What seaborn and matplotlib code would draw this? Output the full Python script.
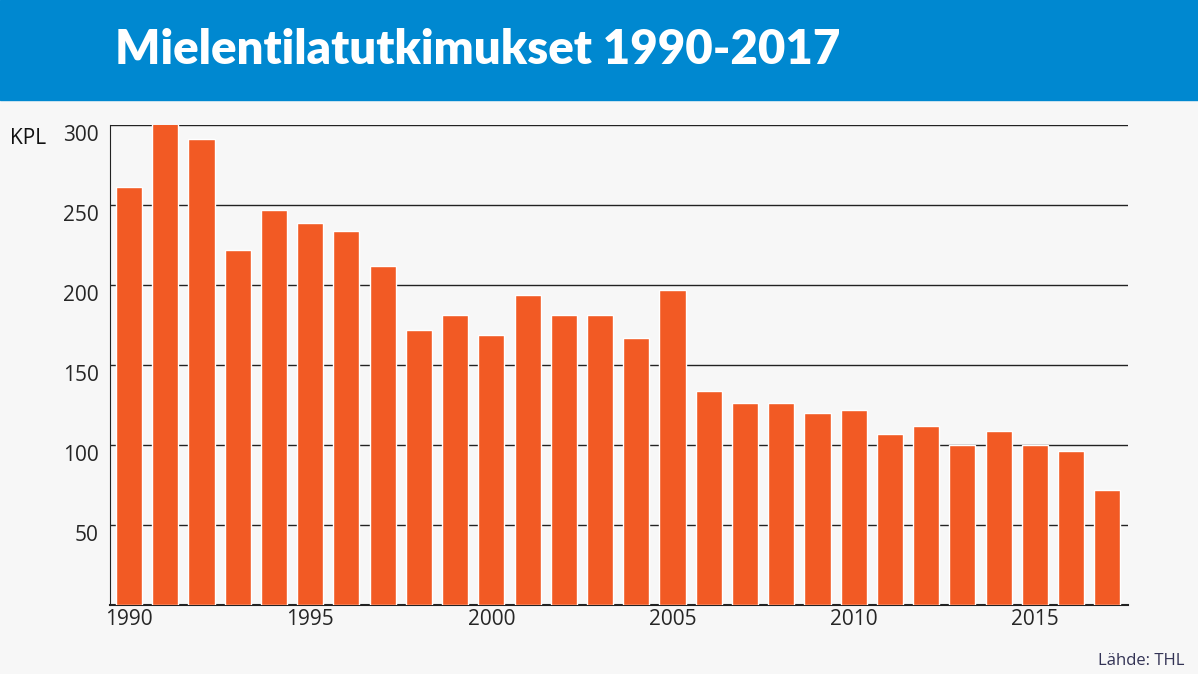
import matplotlib
matplotlib.use("Agg")
import matplotlib.pyplot as plt
import seaborn as sns
import pandas as pd

years = list(range(1990, 2018))
values = [261, 302, 291, 222, 247, 239, 234, 212, 172, 181, 169, 194, 181, 181, 167, 197,
          134, 126, 126, 120, 122, 107, 112, 100, 109, 100, 96, 72]
yticks = [50, 100, 150, 200, 250, 300]
xtick_years = [1990, 1995, 2000, 2005, 2010, 2015]

sns.set_style("white")
plt.rcParams['font.family'] = ['Open Sans', 'DejaVu Sans']

bg = "#f7f7f7"
fig = plt.figure(figsize=(11.98, 6.74), dpi=100, facecolor=bg)
fig.patches.append(plt.Rectangle((0, 1 - 100/674), 1, 100/674, transform=fig.transFigure,
                                 color="#0088d0", zorder=0))
fig.text(115/1198, 1 - 50/674, "Mielentilatutkimukset 1990-2017", color="white",
         fontsize=34, fontweight="heavy", family=["Lato", "DejaVu Sans"], va="center")

ax = fig.add_axes([110/1198, 69/674, 1018/1198, 480/674])
ax.set_facecolor(bg)
df = pd.DataFrame({"year": [str(y) for y in years], "value": values})
sns.barplot(data=df, x="year", y="value", color="#f25a24", saturation=1, width=0.72, ax=ax, zorder=3)
ax.set_xlim(-0.524, 27.57)
ax.set_ylim(0, 300)
ax.set_yticks(yticks)
ax.set_yticklabels([str(t) for t in yticks], va="top", fontsize=15)
ax.yaxis.grid(True, color="#222222", linewidth=1)
ax.set_axisbelow(True)
ax.set_xticks([years.index(y) for y in xtick_years])
ax.set_xticklabels([str(y) for y in xtick_years], fontsize=15)
ax.tick_params(axis="y", length=0, pad=8)
ax.tick_params(axis="x", length=0, pad=3)
for s in ["top", "right"]:
    ax.spines[s].set_visible(False)
ax.spines["left"].set_color("#222222")
ax.spines["bottom"].set_color("#222222")
ax.spines["bottom"].set_linewidth(1.5)
ax.set_xlabel("")
ax.set_ylabel("")
fig.text(10/1198, 1 - 138/674, "KPL", fontsize=15, va="center", color="#111111")
fig.text(1185/1198, 1 - 661/674, "Lähde: THL", fontsize=12, ha="right", va="center", color="#333355")
fig.savefig("out.png", dpi=100, facecolor=bg)
